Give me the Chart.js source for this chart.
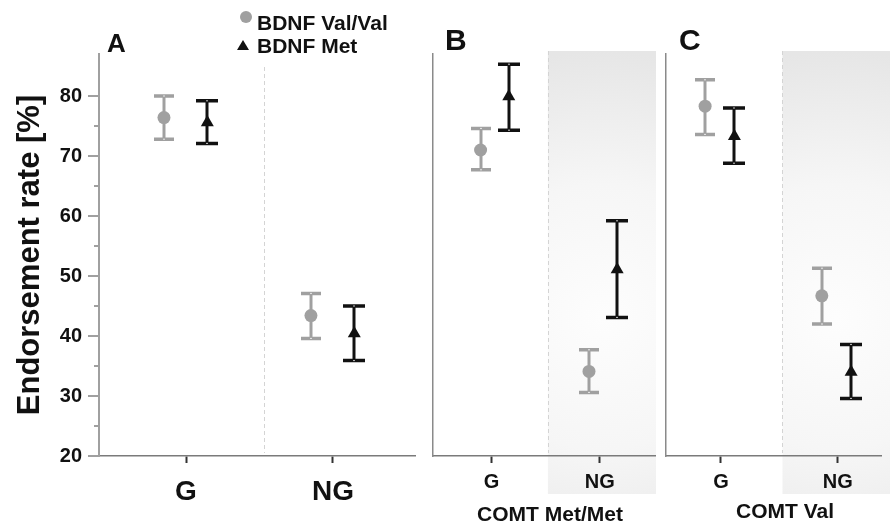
<!DOCTYPE html>
<html>
<head>
<meta charset="utf-8">
<script src="https://cdn.jsdelivr.net/npm/chart.js@4.4.0/dist/chart.umd.min.js"></script>
<style>
html,body{margin:0;padding:0;background:#fff;}
#wrap{position:relative;width:890px;height:523px;overflow:hidden;font-family:"Liberation Sans",Arial,sans-serif;font-weight:bold;color:#111;}
#wrap canvas{position:absolute;top:0;}
.t{position:absolute;white-space:nowrap;line-height:1;}
</style>
</head>
<body>
<div id="wrap">
  <canvas id="cA" width="425" height="523" style="left:0px"></canvas>
  <canvas id="cB" width="239" height="523" style="left:425px"></canvas>
  <canvas id="cC" width="233" height="523" style="left:657px"></canvas>
  <div id="legVal" style="position:absolute;left:240px;top:11px;width:12px;height:12px;border-radius:50%;background:#a0a0a0"></div>
  <div id="legMet" style="position:absolute;left:237px;top:40px;width:0;height:0;border-left:6px solid transparent;border-right:6px solid transparent;border-bottom:10px solid #111"></div>
  <div class="t" id="legValTxt" style="left:257px;top:12px;font-size:21px"></div>
  <div class="t" id="legMetTxt" style="left:257px;top:35px;font-size:21px"></div>
  <div class="t" id="pA" style="left:107px;top:30px;font-size:26px"></div>
  <div class="t" id="pB" style="left:445px;top:25px;font-size:30px"></div>
  <div class="t" id="pC" style="left:679px;top:25px;font-size:30px"></div>
  <div class="t" id="gB" style="left:450px;top:503px;width:200px;text-align:center;font-size:21px"></div>
  <div class="t" id="gC" style="left:685px;top:500px;width:200px;text-align:center;font-size:21px"></div>
</div>
<script>
// ---------- data ----------
const categories = ['G', 'NG'];
const seriesNames = ['BDNF Val/Val', 'BDNF Met'];
const panelLetters = ['A', 'B', 'C'];
const groupTitles = ['', 'COMT Met/Met', 'COMT Val'];
const yAxisTitle = 'Endorsement rate [%]';
const yMajorTicks = [20, 30, 40, 50, 60, 70, 80];

// Panel A (all)
const A_valMean = [76.4, 43.4], A_valLo = [72.8, 39.6], A_valHi = [80.0, 47.1];
const A_metMean = [75.6, 40.4], A_metLo = [72.1, 35.9], A_metHi = [79.2, 45.0];
// Panel B (COMT Met/Met)
const B_valMean = [71.0, 34.1], B_valLo = [67.7, 30.6], B_valHi = [74.6, 37.7];
const B_metMean = [79.9, 51.1], B_metLo = [74.3, 43.1], B_metHi = [85.3, 59.2];
// Panel C (COMT Val)
const C_valMean = [78.3, 46.7], C_valLo = [73.6, 42.0], C_valHi = [82.7, 51.3];
const C_metMean = [73.3, 34.0], C_metLo = [68.8, 29.6], C_metHi = [78.0, 38.6];

// ---------- text ----------
document.getElementById('legValTxt').textContent = seriesNames[0];
document.getElementById('legMetTxt').textContent = seriesNames[1];
document.getElementById('pA').textContent = panelLetters[0];
document.getElementById('pB').textContent = panelLetters[1];
document.getElementById('pC').textContent = panelLetters[2];
document.getElementById('gB').textContent = groupTitles[1];
document.getElementById('gC').textContent = groupTitles[2];

Chart.defaults.font.family = '"Liberation Sans", Arial, sans-serif';
Chart.defaults.color = '#111';

const VAL_COLOR = '#a0a0a0';
const MET_COLOR = '#111111';

// ---------- plugins ----------
const decoPlugin = {
  id: 'deco',
  beforeDraw(chart, args, o) {
    const {ctx, chartArea: ca, scales: {x}} = chart;
    const dx = x.getPixelForValue(o.divider);
    ctx.save();
    if (o.shade) {
      const right = o.shadeToEdge ? chart.width : ca.right + 1;
      const top = ca.top - 3, bottom = ca.bottom + 38;
      const cx = (dx + right) / 2, cy = top + (bottom - top) * 0.6;
      const r = Math.max(right - dx, bottom - top) * 0.6;
      const g = ctx.createRadialGradient(cx, cy, 0, cx, cy, r);
      g.addColorStop(0, '#fdfdfd');
      g.addColorStop(0.5, '#f6f6f6');
      g.addColorStop(1, '#e6e6e6');
      ctx.fillStyle = g;
      ctx.fillRect(dx, top, right - dx, bottom - top);
    }
    ctx.strokeStyle = '#d4d4d4';
    ctx.lineWidth = 1;
    ctx.setLineDash([4, 3]);
    ctx.beginPath();
    ctx.moveTo(Math.round(dx) + 0.5, ca.top + o.divTop);
    ctx.lineTo(Math.round(dx) + 0.5, ca.bottom - 3);
    ctx.stroke();
    ctx.restore();
  },
  afterDraw(chart, args, o) {
    if (!o.yTicks) return;
    const {ctx, chartArea: ca, scales: {y}} = chart;
    ctx.save();
    ctx.strokeStyle = '#a0a0a0';
    ctx.lineWidth = 2;
    y.ticks.forEach(t => {
      const py = Math.round(y.getPixelForValue(t.value));
      const len = (t.value % 10 === 0) ? 11 : 5;
      ctx.beginPath();
      ctx.moveTo(ca.left - len, py);
      ctx.lineTo(ca.left, py);
      ctx.stroke();
    });
    ctx.restore();
  }
};

const errorBarPlugin = {
  id: 'errorBars',
  beforeDatasetsDraw(chart) {
    const {ctx, scales: {x, y}} = chart;
    chart.data.datasets.forEach(ds => {
      ds.data.forEach((pt, i) => {
        const px = Math.round(x.getPixelForValue(pt.x));
        const yLo = y.getPixelForValue(ds.errLo[i]);
        const yHi = y.getPixelForValue(ds.errHi[i]);
        const hw = ds.capHalf;
        ctx.save();
        ctx.strokeStyle = ds.borderColor;
        ctx.lineWidth = 3;
        ctx.beginPath();
        ctx.moveTo(px, yLo);
        ctx.lineTo(px, yHi);
        ctx.stroke();
        ctx.lineWidth = 3.5;
        ctx.beginPath();
        ctx.moveTo(px - hw, yLo); ctx.lineTo(px + hw, yLo);
        ctx.moveTo(px - hw, yHi); ctx.lineTo(px + hw, yHi);
        ctx.stroke();
        ctx.fillStyle = 'rgba(255,255,255,0.75)';
        ctx.fillRect(px - 1, yLo - 0.5, 2, 1);
        ctx.fillRect(px - 1, yHi - 0.5, 2, 1);
        ctx.restore();
      });
    });
  }
};

// ---------- chart builder ----------
function makePanel(canvasId, cfg) {
  const mkData = (mean, off) => mean.map((v, i) => ({x: i + off, y: v}));
  return new Chart(document.getElementById(canvasId), {
    type: 'scatter',
    data: {
      datasets: [
        {
          label: seriesNames[0],
          data: mkData(cfg.valMean, cfg.offsets[0]),
          errLo: cfg.valLo, errHi: cfg.valHi, capHalf: 10,
          pointStyle: 'circle', pointRadius: 6.5,
          backgroundColor: VAL_COLOR, borderColor: VAL_COLOR, borderWidth: 0
        },
        {
          label: seriesNames[1],
          data: mkData(cfg.metMean, cfg.offsets[1]),
          errLo: cfg.metLo, errHi: cfg.metHi, capHalf: 11,
          pointStyle: 'triangle', pointRadius: 7.5,
          backgroundColor: MET_COLOR, borderColor: MET_COLOR, borderWidth: 0
        }
      ]
    },
    options: {
      responsive: false,
      animation: false,
      events: [],
      layout: {padding: {top: 54, left: 0, right: cfg.padRight, bottom: 0}},
      plugins: {
        legend: {display: false},
        tooltip: {enabled: false},
        title: {display: false},
        deco: {divider: cfg.divider, shade: cfg.shade, shadeToEdge: cfg.shadeToEdge, divTop: cfg.divTop, yTicks: cfg.yLabels}
      },
      scales: {
        x: {
          type: 'linear',
          position: 'bottom',
          min: cfg.xMin, max: cfg.xMax,
          afterBuildTicks: s => { s.ticks = categories.map((c, i) => ({value: i})); },
          afterFit: s => { s.height = 67; s.paddingLeft = 0; s.paddingRight = 0; },
          ticks: {
            autoSkip: false, maxRotation: 0, minRotation: 0,
            padding: cfg.xPad,
            color: '#111',
            font: {size: cfg.xFont, weight: 'bold'},
            callback: v => categories[v]
          },
          grid: {display: true, drawOnChartArea: false, drawTicks: true, tickLength: 7, tickColor: '#333', tickWidth: 2},
          border: {display: true, color: '#7a7a7a', width: 1.5}
        },
        y: {
          type: 'linear',
          position: 'left',
          min: 20, max: 87,
          afterBuildTicks: s => { s.ticks = s.ticks.filter(t => t.value % 5 === 0 && t.value <= 85); },
          afterFit: s => { s.width = cfg.yWidth; s.paddingTop = 0; s.paddingBottom = 0; },
          ticks: {
            display: cfg.yLabels,
            stepSize: 5,
            padding: 17,
            color: '#111',
            font: {size: 20, weight: 'bold'},
            callback: v => (yMajorTicks.includes(v) ? String(v) : '')
          },
          grid: {display: false, drawTicks: false},
          border: {display: true, color: cfg.yLabels ? '#a0a0a0' : '#8a8a8a', width: cfg.yLabels ? 2 : 1.5},
          title: {
            display: cfg.yLabels,
            text: yAxisTitle,
            color: '#111',
            font: {size: 31, weight: 'bold'},
            padding: {top: 12, bottom: 0}
          }
        }
      }
    },
    plugins: [decoPlugin, errorBarPlugin]
  });
}

makePanel('cA', {
  valMean: A_valMean, valLo: A_valLo, valHi: A_valHi,
  metMean: A_metMean, metLo: A_metLo, metHi: A_metHi,
  offsets: [-0.15, 0.145], xMin: -0.592, xMax: 1.558, divider: 0.531,
  shade: false, shadeToEdge: false, divTop: 13,
  yWidth: 99, padRight: 10, yLabels: true, xFont: 28, xPad: 12
});
makePanel('cB', {
  valMean: B_valMean, valLo: B_valLo, valHi: B_valHi,
  metMean: B_metMean, metLo: B_metLo, metHi: B_metHi,
  offsets: [-0.1, 0.16], xMin: -0.539, xMax: 1.509, divider: 0.521,
  shade: true, shadeToEdge: false, divTop: -3,
  yWidth: 8, padRight: 9, yLabels: false, xFont: 20, xPad: 7
});
makePanel('cC', {
  valMean: C_valMean, valLo: C_valLo, valHi: C_valHi,
  metMean: C_metMean, metLo: C_metLo, metHi: C_metHi,
  offsets: [-0.136, 0.115], xMin: -0.471, xMax: 1.371, divider: 0.527,
  shade: true, shadeToEdge: true, divTop: -3,
  yWidth: 9, padRight: 9, yLabels: false, xFont: 20, xPad: 7
});
</script>
</body>
</html>
